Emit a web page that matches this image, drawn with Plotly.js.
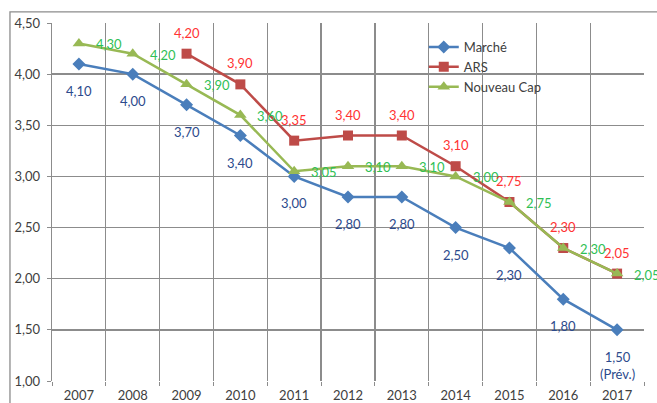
<!DOCTYPE html>
<html><head><meta charset="utf-8">
<script src="https://cdn.plot.ly/plotly-3.0.1.min.js"></script>
<style>html,body{margin:0;padding:0;background:#fff}#c{width:657px;height:403px}</style>
</head><body><div id="c"></div>
<script>
const years = ['2007','2008','2009','2010','2011','2012','2013','2014','2015','2016','2017'];
const marche = [4.10, 4.00, 3.70, 3.40, 3.00, 2.80, 2.80, 2.50, 2.30, 1.80, 1.50];
const ars = [null, null, 4.20, 3.90, 3.35, 3.40, 3.40, 3.10, 2.75, 2.30, 2.05];
const nouveauCap = [4.30, 4.20, 3.90, 3.60, 3.05, 3.10, 3.10, 3.00, 2.75, 2.30, 2.05];
const marcheLastNote = '(Prév.)';

const fmt = v => v == null ? '' : v.toFixed(2).replace('.', ',');
const marcheText = marche.map((v, i) => i === marche.length - 1 ? fmt(v) + '<br>' + marcheLastNote : fmt(v));

const fam = 'Lato, "Open Sans", sans-serif';
const traces = [
  {x: years, y: marche, name: 'Marché', mode: 'lines+markers',
   line: {color: '#4a7ebb', width: 2.5}, marker: {symbol: 'diamond', size: 10, color: '#4a7ebb'}},
  {x: years, y: ars, name: 'ARS', mode: 'lines+markers',
   line: {color: '#be4b48', width: 2.5}, marker: {symbol: 'square', size: 10, color: '#be4b48'}},
  {x: years, y: nouveauCap, name: 'Nouveau Cap', mode: 'lines+markers',
   line: {color: '#98b954', width: 2.5}, marker: {symbol: 'triangle-up', size: 11, color: '#98b954'}}
];

const annotations = [];
years.forEach((yr, i) => {
  if (marche[i] != null) annotations.push({xref: 'x', yref: 'y', x: i, y: marche[i], text: marcheText[i], showarrow: false,
    xanchor: 'center', yanchor: 'top', yshift: -17, font: {family: fam, size: 13, color: '#2c4a8c'}});
  if (ars[i] != null) annotations.push({xref: 'x', yref: 'y', x: i, y: ars[i], text: fmt(ars[i]), showarrow: false,
    xanchor: 'center', yanchor: 'bottom', yshift: 11, font: {family: fam, size: 13, color: '#ff3333'}});
  if (nouveauCap[i] != null) annotations.push({xref: 'x', yref: 'y', x: i, y: nouveauCap[i], text: fmt(nouveauCap[i]), showarrow: false,
    xanchor: 'left', yanchor: 'middle', xshift: 15, yshift: -1, font: {family: fam, size: 13, color: '#2fbf55'}});
});

const layout = {
  width: 657, height: 403,
  margin: {l: 52, r: 13, t: 23, b: 22},
  paper_bgcolor: '#fff', plot_bgcolor: '#fff',
  separators: ',.',
  font: {family: fam, size: 13, color: '#404040'},
  showlegend: true,
  legend: {x: 0.628, y: 0.975, xanchor: 'left', yanchor: 'top', bgcolor: 'rgba(0,0,0,0)',
           font: {family: fam, size: 13, color: '#404040'}, tracegroupgap: 0, itemwidth: 30},
  xaxis: {type: 'category', tickson: 'boundaries', showgrid: true, gridcolor: '#8c8c8c', gridwidth: 1.3,
          ticks: 'outside', ticklen: 4, tickcolor: '#8c8c8c', showline: false, zeroline: false,
          ticklabelstandoff: 5,
          range: [-0.5, 10.5], tickfont: {size: 13, color: '#404040'}, fixedrange: true},
  yaxis: {range: [1, 4.5], dtick: 0.5, tick0: 1, tickformat: '.2f', showgrid: true, gridcolor: '#8c8c8c', gridwidth: 1.3,
          ticks: 'outside', ticklen: 4, tickcolor: '#8c8c8c', showline: true, linecolor: '#8c8c8c', linewidth: 1.3,
          zeroline: false, tickfont: {size: 13, color: '#404040'}, ticklabelstandoff: 4, fixedrange: true},
  annotations: annotations,
  shapes: [
    {type: 'rect', xref: 'paper', yref: 'paper', x0: -0.071, x1: 1.1, y0: -0.2, y1: 1.031,
     line: {color: '#8c8c8c', width: 1.3}, fillcolor: 'rgba(0,0,0,0)'}
  ]
};
Plotly.newPlot('c', traces, layout, {staticPlot: true});
</script></body></html>
